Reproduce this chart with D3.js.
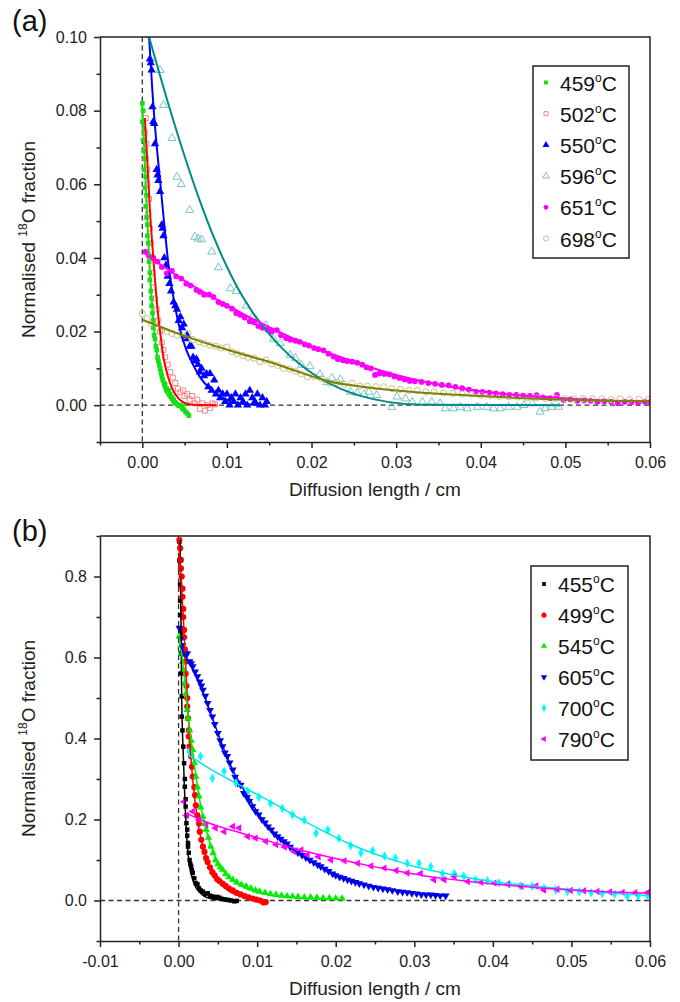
<!DOCTYPE html>
<html>
  <head>
    <title>Normalised 18O fraction profiles</title>
    <script src="https://cdnjs.cloudflare.com/ajax/libs/d3/7.8.5/d3.min.js"></script>
    <style>
      body { margin: 0; background: #fff; }
      svg { font-family: "Liberation Sans", Arial, sans-serif; }
    </style>
  </head>
  <body>
    <svg id="svg" width="680" height="1002" xmlns="http://www.w3.org/2000/svg"></svg>
    <script>
      // ---------- panel (a): [diffusion length / cm, normalised 18O fraction]
      let a459 = [[0.0000,0.082],[0.0001,0.080],[0.0000,0.077],[0.0002,0.075],[0.0001,0.072],[0.0002,0.069],[0.0003,0.067],[0.0002,0.064],[0.0004,0.062],[0.0003,0.059],[0.0005,0.057],[0.0004,0.054],[0.0005,0.051],[0.0006,0.049],[0.0006,0.046],[0.0007,0.044],[0.0007,0.041],[0.0008,0.039],[0.0009,0.036],[0.0009,0.034],[0.0010,0.031],[0.0011,0.029],[0.0011,0.027],[0.0012,0.025],[0.0013,0.023],[0.0013,0.021],[0.0014,0.019],[0.0015,0.018],[0.0016,0.016],[0.0017,0.015],[0.0018,0.013],[0.0019,0.012],[0.0020,0.011],[0.0021,0.010],[0.0022,0.009],[0.0023,0.008],[0.0024,0.007],[0.0026,0.006],[0.0027,0.0055],[0.0029,0.0045],[0.0031,0.004],[0.0033,0.003],[0.0035,0.0022],[0.0037,0.0015],[0.0039,0.0008],[0.0041,0.0003],[0.0043,-0.0002],[0.0045,0.0],[0.0047,-0.0008],[0.0049,-0.0012],[0.0051,-0.0018],[0.0053,-0.0022],[0.0055,-0.0028]];
      let a459Fit = [[0.0000,0.082],[0.0005,0.055],[0.0010,0.032],[0.0015,0.018],[0.0020,0.010],[0.0025,0.005],[0.0032,0.002],[0.0040,0.0],[0.0055,0.0]];

      let a502 = [[0.0004,0.078],[0.0003,0.074],[0.0005,0.071],[0.0004,0.067],[0.0006,0.064],[0.0006,0.060],[0.0008,0.056],[0.0007,0.052],[0.0009,0.048],[0.0010,0.044],[0.0011,0.040],[0.0012,0.036],[0.0013,0.032],[0.0015,0.029],[0.0017,0.026],[0.0019,0.023],[0.0021,0.020],[0.0023,0.017],[0.0025,0.015],[0.0027,0.013],[0.0030,0.011],[0.0033,0.009],[0.0036,0.0075],[0.0039,0.006],[0.0042,0.0045],[0.0045,0.0035],[0.0048,0.004],[0.0050,0.0025],[0.0053,0.003],[0.0056,0.0015],[0.0059,0.0025],[0.0062,0.0005],[0.0065,0.0015],[0.0068,-0.001],[0.0071,0.0005],[0.0074,-0.0015],[0.0077,0.0],[0.0080,-0.0008],[0.0083,0.0005],[0.0086,0.0002]];
      let a502Fit = [[0.0003,0.078],[0.0006,0.066],[0.0009,0.053],[0.0012,0.043],[0.0015,0.034],[0.0018,0.026],[0.0021,0.020],[0.0025,0.013],[0.0030,0.008],[0.0036,0.0042],[0.0043,0.0018],[0.0050,0.0006],[0.0060,0.0001],[0.0088,0.0]];

      let a550 = [[0.0009,0.094],[0.0010,0.093],[0.0011,0.091],[0.0012,0.081],[0.0013,0.077],[0.0014,0.0765],[0.0015,0.071],[0.0017,0.064],[0.0018,0.0625],[0.0019,0.061],[0.0021,0.058],[0.0023,0.049],[0.0024,0.048],[0.0025,0.046],[0.0026,0.040],[0.0028,0.038],[0.0030,0.035],[0.0032,0.033],[0.0034,0.031],[0.0037,0.028],[0.0039,0.027],[0.0041,0.026],[0.0043,0.023],[0.0045,0.024],[0.0047,0.021],[0.0049,0.022],[0.0051,0.018],[0.0053,0.019],[0.0056,0.016],[0.0058,0.016],[0.0060,0.013],[0.0062,0.012],[0.0064,0.0125],[0.0066,0.011],[0.0068,0.009],[0.0070,0.010],[0.0073,0.008],[0.0076,0.0085],[0.0078,0.005],[0.0080,0.0086],[0.0082,0.004],[0.0085,0.0068],[0.0087,0.003],[0.0090,0.004],[0.0092,0.002],[0.0095,0.003],[0.0098,0.001],[0.0100,0.003],[0.0103,0.000],[0.0105,0.002],[0.0108,0.001],[0.0110,0.003],[0.0113,0.000],[0.0116,0.002],[0.0119,0.001],[0.0122,0.003],[0.0124,0.000],[0.0127,0.004],[0.0130,0.002],[0.0133,0.001],[0.0136,0.003],[0.0139,0.000],[0.0142,0.002],[0.0145,0.000],[0.0147,0.001]];
      let a550Fit = [[0.0008,0.100],[0.0012,0.085],[0.0016,0.073],[0.0021,0.061],[0.0026,0.049],[0.0031,0.038],[0.0037,0.029],[0.0044,0.021],[0.0052,0.015],[0.0060,0.011],[0.0068,0.0077],[0.0080,0.0045],[0.0092,0.0023],[0.0105,0.001],[0.0120,0.0003],[0.0147,0.0]];

      let a596 = [[0.0021,0.091],[0.0025,0.0815],[0.0035,0.0725],[0.0041,0.062],[0.0046,0.060],[0.0056,0.053],[0.0062,0.0457],[0.0066,0.0452],[0.0070,0.045],[0.0082,0.0417],[0.0090,0.0374],[0.0104,0.0317],[0.0111,0.031],[0.0123,0.027],[0.0130,0.024],[0.0146,0.0217],[0.0155,0.018],[0.0163,0.0168],[0.0175,0.0136],[0.0181,0.0128],[0.0188,0.0109],[0.0198,0.0106],[0.0210,0.0084],[0.0218,0.0062],[0.0224,0.0074],[0.0234,0.0070],[0.0246,0.0036],[0.0254,0.0033],[0.0262,0.0030],[0.0268,0.0036],[0.0277,0.0027],[0.0295,-0.0005],[0.0301,0.0023],[0.0311,0.0018],[0.0319,0.0009],[0.0331,0.0009],[0.0342,0.0009],[0.0352,0.0005],[0.0358,-0.0009],[0.0368,-0.0009],[0.0376,-0.0005],[0.0384,-0.0009],[0.0396,-0.0005],[0.0407,-0.0005],[0.0415,-0.0009],[0.0423,-0.0009],[0.0433,-0.0005],[0.0443,-0.0005],[0.0451,0.0],[0.0461,0.0005],[0.0470,-0.0018],[0.0476,-0.0009],[0.0484,-0.0005],[0.0492,-0.0005]];
      let a596Fit = [[0.0008,0.100],[0.0030,0.0824],[0.0050,0.0676],[0.0068,0.0555],[0.0084,0.0459],[0.0100,0.0376],[0.0118,0.0297],[0.0131,0.0250],[0.0150,0.0193],[0.0165,0.0155],[0.0183,0.0117],[0.0205,0.0080],[0.0234,0.0045],[0.0260,0.0024],[0.0290,0.0009],[0.0330,0.0001],[0.0494,0.0]];

      let a651 = [[0.0004,0.0417],[0.0008,0.0405],[0.0013,0.040],[0.0018,0.039],[0.0023,0.0375],[0.0029,0.0358],[0.0035,0.0365],[0.0040,0.035],[0.0046,0.0344],[0.0052,0.033],[0.0057,0.0325],[0.0064,0.0313],[0.0068,0.0308],[0.0073,0.030],[0.0079,0.030],[0.0084,0.0294],[0.0090,0.028],[0.0095,0.0275],[0.0100,0.027],[0.0106,0.0262],[0.0111,0.025],[0.0116,0.0245],[0.0121,0.0238],[0.0127,0.0228],[0.0132,0.0225],[0.0137,0.0215],[0.0142,0.021],[0.0148,0.0205],[0.0153,0.020],[0.0159,0.0204],[0.0164,0.019],[0.0170,0.0182],[0.0175,0.0178],[0.0181,0.0175],[0.0186,0.0172],[0.0192,0.0165],[0.0197,0.0162],[0.0203,0.0155],[0.0208,0.0152],[0.0214,0.0149],[0.0220,0.014],[0.0226,0.0132],[0.0231,0.0125],[0.0237,0.0122],[0.0242,0.012],[0.0248,0.0118],[0.0254,0.0115],[0.0260,0.011],[0.0265,0.0103],[0.0270,0.010],[0.0275,0.0082],[0.0280,0.0086],[0.0286,0.0085],[0.0292,0.0084],[0.0298,0.0078],[0.0304,0.0074],[0.0310,0.007],[0.0316,0.0066],[0.0322,0.0065],[0.0330,0.0063],[0.0338,0.006],[0.0346,0.0058],[0.0354,0.0055],[0.0362,0.0054],[0.0370,0.005],[0.0378,0.0046],[0.0386,0.0042],[0.0394,0.0037],[0.0402,0.0036],[0.0410,0.0034],[0.0418,0.0032],[0.0426,0.003],[0.0434,0.0028],[0.0442,0.0028],[0.0450,0.0026],[0.0458,0.0025],[0.0466,0.0027],[0.0474,0.0021],[0.0482,0.0019],[0.0490,0.0028],[0.0498,0.0014],[0.0506,0.0016],[0.0514,0.0012],[0.0522,0.0013],[0.0530,0.0012],[0.0538,0.0009],[0.0546,0.0011],[0.0554,0.0009],[0.0562,0.0005],[0.0570,0.0009],[0.0578,0.0008],[0.0586,0.0007],[0.0594,0.0009],[0.0600,0.0008]];
      let a651Fit = [[0.0003,0.0412],[0.005,0.0338],[0.010,0.0272],[0.015,0.0212],[0.020,0.0160],[0.025,0.0118],[0.030,0.0082],[0.035,0.0056],[0.040,0.0038],[0.045,0.0026],[0.050,0.0018],[0.055,0.0012],[0.060,0.0009]];

      let a698 = [[0.0000,0.0249],[0.0006,0.0235],[0.0011,0.022],[0.0017,0.021],[0.0023,0.0205],[0.0029,0.0200],[0.0035,0.0195],[0.0041,0.019],[0.0048,0.0188],[0.0054,0.0195],[0.0060,0.0178],[0.0067,0.0172],[0.0073,0.0168],[0.0080,0.0163],[0.0087,0.016],[0.0093,0.0155],[0.0100,0.0158],[0.0106,0.0145],[0.0112,0.014],[0.0119,0.0135],[0.0125,0.013],[0.0132,0.0128],[0.0139,0.0118],[0.0146,0.0122],[0.0153,0.0112],[0.0160,0.0108],[0.0167,0.010],[0.0174,0.0098],[0.0181,0.0092],[0.0188,0.0085],[0.0195,0.0077],[0.0203,0.0078],[0.0212,0.0072],[0.0221,0.0060],[0.0230,0.0062],[0.0239,0.0057],[0.0248,0.0060],[0.0257,0.0052],[0.0266,0.0052],[0.0276,0.0050],[0.0285,0.0050],[0.0295,0.0045],[0.0305,0.0043],[0.0315,0.0040],[0.0325,0.0040],[0.0335,0.0036],[0.0345,0.0036],[0.0356,0.0033],[0.0367,0.0032],[0.0378,0.0030],[0.0389,0.0030],[0.0400,0.0027],[0.0411,0.0027],[0.0422,0.0024],[0.0433,0.0023],[0.0444,0.0022],[0.0455,0.0020],[0.0466,0.0020],[0.0477,0.0018],[0.0488,0.0019],[0.0499,0.0018],[0.0510,0.0017],[0.0521,0.0018],[0.0532,0.0017],[0.0543,0.0017],[0.0554,0.0015],[0.0565,0.0017],[0.0576,0.0015],[0.0587,0.0016],[0.0598,0.0015]];
      let a698Fit = [[0.0,0.0232],[0.003,0.0205],[0.006,0.0180],[0.009,0.0158],[0.012,0.0137],[0.015,0.0118],[0.018,0.0094],[0.022,0.0065],[0.026,0.0050],[0.030,0.0040],[0.035,0.0031],[0.040,0.0025],[0.045,0.0019],[0.050,0.0015],[0.055,0.0012],[0.060,0.0011]];

      // ---------- panel (b)
      let b455 = [[0.0001,0.886],[0.0001,0.84],[0.0002,0.78],[0.0002,0.74],[0.0002,0.705],[0.0003,0.66],[0.0003,0.61],[0.0003,0.561],[0.0004,0.504],[0.0004,0.454],[0.0005,0.42],[0.0006,0.38],[0.0007,0.339],[0.0008,0.30],[0.0008,0.281],[0.0009,0.25],[0.0009,0.232],[0.0010,0.21],[0.0010,0.191],[0.0011,0.175],[0.0011,0.16],[0.0012,0.142],[0.0012,0.133],[0.0013,0.118],[0.0014,0.10],[0.0015,0.09],[0.0016,0.084],[0.0017,0.075],[0.0018,0.068],[0.0020,0.055],[0.0022,0.043],[0.0024,0.040],[0.0026,0.030],[0.0028,0.025],[0.0031,0.022],[0.0034,0.016],[0.0037,0.018],[0.0040,0.012],[0.0043,0.010],[0.0046,0.008],[0.0049,0.009],[0.0052,0.007],[0.0055,0.004],[0.0058,0.003],[0.0061,0.002],[0.0064,0.001],[0.0067,0.0],[0.0071,-0.002],[0.0074,-0.001]];
      let b455Fit = [[0.0002,0.89],[0.0003,0.70],[0.0004,0.50],[0.0006,0.36],[0.0008,0.25],[0.0010,0.17],[0.0013,0.10],[0.0016,0.066],[0.0020,0.040],[0.0026,0.022],[0.0033,0.010],[0.0042,0.004],[0.0055,0.001],[0.0070,0.0]];

      let b499 = [[0.0001,0.89],[0.0002,0.87],[0.0003,0.841],[0.0003,0.82],[0.0004,0.80],[0.0005,0.77],[0.0005,0.75],[0.0006,0.72],[0.0006,0.70],[0.0007,0.668],[0.0007,0.65],[0.0008,0.62],[0.0009,0.59],[0.0009,0.56],[0.0010,0.53],[0.0011,0.50],[0.0011,0.479],[0.0012,0.45],[0.0013,0.42],[0.0013,0.405],[0.0014,0.38],[0.0016,0.356],[0.0017,0.33],[0.0018,0.306],[0.0020,0.28],[0.0021,0.26],[0.0022,0.235],[0.0024,0.21],[0.0026,0.19],[0.0027,0.17],[0.0029,0.15],[0.0031,0.133],[0.0033,0.12],[0.0035,0.105],[0.0037,0.095],[0.0040,0.082],[0.0043,0.07],[0.0046,0.062],[0.0049,0.053],[0.0052,0.048],[0.0056,0.042],[0.0060,0.036],[0.0064,0.030],[0.0069,0.025],[0.0074,0.019],[0.0079,0.015],[0.0084,0.011],[0.0089,0.008],[0.0094,0.005],[0.0099,0.002],[0.0104,0.0],[0.0108,-0.005],[0.0111,-0.004]];
      let b499Fit = [[0.0000,0.89],[0.0003,0.80],[0.0006,0.70],[0.0009,0.58],[0.0012,0.47],[0.0015,0.37],[0.0019,0.28],[0.0024,0.20],[0.0030,0.14],[0.0037,0.095],[0.0045,0.062],[0.0055,0.038],[0.0065,0.022],[0.0080,0.010],[0.0095,0.004],[0.0110,0.001]];

      let b545 = [[0.0001,0.652],[0.0003,0.63],[0.0004,0.61],[0.0005,0.59],[0.0006,0.57],[0.0008,0.537],[0.0009,0.51],[0.0011,0.471],[0.0012,0.45],[0.0014,0.421],[0.0016,0.395],[0.0018,0.372],[0.0020,0.34],[0.0022,0.306],[0.0024,0.28],[0.0026,0.257],[0.0028,0.23],[0.0031,0.207],[0.0033,0.19],[0.0035,0.175],[0.0038,0.155],[0.0041,0.133],[0.0044,0.117],[0.0047,0.100],[0.0050,0.09],[0.0053,0.082],[0.0056,0.076],[0.0060,0.066],[0.0064,0.058],[0.0069,0.051],[0.0074,0.045],[0.0080,0.039],[0.0086,0.035],[0.0092,0.030],[0.0098,0.025],[0.0103,0.022],[0.0110,0.019],[0.0117,0.016],[0.0124,0.014],[0.0131,0.012],[0.0138,0.011],[0.0145,0.010],[0.0152,0.009],[0.0160,0.008],[0.0168,0.008],[0.0176,0.007],[0.0184,0.006],[0.0192,0.006],[0.0200,0.005],[0.0208,0.005]];
      let b545Fit = [[0.0000,0.66],[0.0004,0.61],[0.0008,0.54],[0.0012,0.46],[0.0016,0.395],[0.0020,0.335],[0.0025,0.27],[0.0030,0.215],[0.0036,0.168],[0.0043,0.125],[0.0050,0.094],[0.0060,0.066],[0.0070,0.048],[0.0085,0.031],[0.0100,0.021],[0.0120,0.013],[0.0150,0.007],[0.0180,0.004],[0.0210,0.003]];

      let b605 = [[0.0001,0.673],[0.0003,0.646],[0.0005,0.63],[0.0007,0.611],[0.0009,0.605],[0.0011,0.61],[0.0014,0.59],[0.0016,0.585],[0.0018,0.578],[0.0021,0.565],[0.0024,0.553],[0.0027,0.54],[0.0029,0.53],[0.0031,0.52],[0.0034,0.505],[0.0037,0.487],[0.0040,0.47],[0.0043,0.454],[0.0046,0.435],[0.0050,0.413],[0.0053,0.395],[0.0056,0.38],[0.0059,0.365],[0.0062,0.356],[0.0065,0.34],[0.0069,0.323],[0.0072,0.305],[0.0075,0.29],[0.0079,0.285],[0.0083,0.265],[0.0087,0.255],[0.0090,0.245],[0.0094,0.232],[0.0098,0.22],[0.0102,0.212],[0.0106,0.200],[0.0110,0.192],[0.0114,0.182],[0.0118,0.175],[0.0122,0.165],[0.0126,0.158],[0.0130,0.152],[0.0134,0.146],[0.0138,0.140],[0.0142,0.132],[0.0147,0.125],[0.0152,0.118],[0.0157,0.112],[0.0162,0.106],[0.0167,0.100],[0.0172,0.094],[0.0177,0.088],[0.0181,0.084],[0.0186,0.078],[0.0191,0.072],[0.0196,0.066],[0.0200,0.062],[0.0205,0.058],[0.0210,0.055],[0.0215,0.051],[0.0220,0.048],[0.0225,0.045],[0.0230,0.042],[0.0236,0.039],[0.0242,0.036],[0.0248,0.033],[0.0254,0.031],[0.0260,0.029],[0.0266,0.027],[0.0272,0.025],[0.0279,0.022],[0.0285,0.021],[0.0291,0.020],[0.0297,0.018],[0.0303,0.017],[0.0309,0.015],[0.0315,0.014],[0.0321,0.014],[0.0327,0.013],[0.0333,0.012],[0.0340,0.0116]];
      let b605Fit = [[0.0002,0.63],[0.0010,0.60],[0.0020,0.565],[0.0030,0.52],[0.0040,0.468],[0.0050,0.413],[0.0060,0.362],[0.0070,0.318],[0.0080,0.283],[0.0092,0.245],[0.0103,0.21],[0.0115,0.18],[0.0128,0.155],[0.0147,0.125],[0.0165,0.10],[0.0181,0.083],[0.0200,0.063],[0.0220,0.048],[0.0250,0.034],[0.0280,0.023],[0.0310,0.016],[0.0340,0.011]];

      let b700 = [[0.00135,0.368],[0.0016,0.36],[0.0028,0.356],[0.0043,0.302],[0.0058,0.319],[0.0073,0.290],[0.0088,0.269],[0.0102,0.255],[0.0117,0.240],[0.0132,0.228],[0.0145,0.212],[0.0160,0.199],[0.0175,0.166],[0.0190,0.175],[0.0204,0.154],[0.0219,0.135],[0.0232,0.117],[0.0247,0.123],[0.0262,0.110],[0.0276,0.105],[0.0291,0.092],[0.0306,0.092],[0.0321,0.084],[0.0336,0.066],[0.0351,0.066],[0.0363,0.060],[0.0378,0.051],[0.0393,0.049],[0.0408,0.043],[0.0421,0.040],[0.0435,0.036],[0.0450,0.035],[0.0465,0.030],[0.0480,0.026],[0.0495,0.022],[0.0510,0.022],[0.0525,0.019],[0.0539,0.017],[0.0555,0.016],[0.0571,0.010],[0.0585,0.011],[0.0597,0.012]];
      let b700Fit = [[0.0012,0.36],[0.004,0.325],[0.007,0.293],[0.010,0.262],[0.013,0.230],[0.016,0.196],[0.019,0.166],[0.0215,0.142],[0.025,0.115],[0.028,0.096],[0.030,0.084],[0.033,0.071],[0.036,0.059],[0.0385,0.051],[0.041,0.044],[0.044,0.038],[0.047,0.032],[0.050,0.027],[0.053,0.022],[0.056,0.017],[0.060,0.012]];

      let b790 = [[0.0007,0.244],[0.0010,0.21],[0.0018,0.22],[0.0026,0.199],[0.0035,0.187],[0.0047,0.179],[0.0058,0.17],[0.0069,0.183],[0.0077,0.179],[0.0088,0.158],[0.0098,0.154],[0.0111,0.146],[0.0124,0.138],[0.0135,0.132],[0.0147,0.121],[0.0156,0.125],[0.0164,0.113],[0.0178,0.108],[0.0194,0.100],[0.0211,0.098],[0.0228,0.092],[0.0245,0.085],[0.0262,0.080],[0.0277,0.074],[0.0291,0.068],[0.0308,0.067],[0.0325,0.051],[0.0338,0.051],[0.0351,0.059],[0.0368,0.047],[0.0385,0.045],[0.0402,0.043],[0.0419,0.040],[0.0436,0.035],[0.0455,0.036],[0.0465,0.026],[0.0482,0.028],[0.0499,0.025],[0.0516,0.024],[0.0533,0.022],[0.0549,0.021],[0.0565,0.020],[0.0581,0.019],[0.0597,0.020]];
      let b790Fit = [[0.0010,0.215],[0.004,0.19],[0.007,0.172],[0.010,0.155],[0.013,0.138],[0.016,0.122],[0.019,0.108],[0.022,0.095],[0.025,0.083],[0.028,0.072],[0.031,0.062],[0.034,0.054],[0.037,0.047],[0.040,0.041],[0.043,0.036],[0.046,0.031],[0.049,0.027],[0.052,0.024],[0.055,0.021],[0.058,0.019],[0.060,0.018]];

      // ---------- axis ticks
      let aXTicks = [0, 0.01, 0.02, 0.03, 0.04, 0.05, 0.06];
      let aXMinor = [-0.005, 0.005, 0.015, 0.025, 0.035, 0.045, 0.055];
      let aYTicks = [0, 0.02, 0.04, 0.06, 0.08, 0.10];
      let aYMinor = [-0.01, 0.01, 0.03, 0.05, 0.07, 0.09];
      let bXTicks = [-0.01, 0, 0.01, 0.02, 0.03, 0.04, 0.05, 0.06];
      let bXMinor = [-0.005, 0.005, 0.015, 0.025, 0.035, 0.045, 0.055];
      let bYTicks = [0, 0.2, 0.4, 0.6, 0.8];
      let bYMinor = [-0.1, 0.1, 0.3, 0.5, 0.7, 0.9];

      let svg = d3.select("svg");

      // Draws one panel: frame, axes, reference lines, points, fits, legend
      function drawPanel(p) {
        let g = svg.append("g");
        let x = d3.scaleLinear().domain(p.xDomain).range([p.left, p.right]);
        let y = d3.scaleLinear().domain(p.yDomain).range([p.bottom, p.top]);

        g.append("clipPath").attr("id", p.id + "clip")
          .append("rect")
          .attr("x", p.left).attr("y", p.top)
          .attr("width", p.right - p.left).attr("height", p.bottom - p.top);

        // dashed zero lines
        g.append("line")
          .attr("x1", p.left).attr("x2", p.right)
          .attr("y1", y(0)).attr("y2", y(0))
          .attr("stroke", "#333").attr("stroke-width", 1.3).attr("stroke-dasharray", "5,3.5");
        g.append("line")
          .attr("x1", x(0)).attr("x2", x(0))
          .attr("y1", p.top).attr("y2", p.bottom)
          .attr("stroke", "#333").attr("stroke-width", 1.3).attr("stroke-dasharray", "5,3.5");

        let data = g.append("g").attr("clip-path", "url(#" + p.id + "clip)");

        // points
        p.series.forEach((s) => {
          let sym = d3.symbol(s.symbol, s.size)();
          data.append("g")
            .selectAll("path")
            .data(s.pts)
            .join("path")
            .attr("d", sym)
            .attr("transform", (d) => "translate(" + x(d[0]) + "," + y(d[1]) + ") rotate(" + (s.rotate || 0) + ")")
            .attr("fill", s.open ? "none" : s.color)
            .attr("stroke", s.open ? s.color : "none")
            .attr("stroke-width", 1);
        });

        // fitted curves
        let line = d3.line().x((d) => x(d[0])).y((d) => y(d[1])).curve(d3.curveMonotoneX);
        p.series.forEach((s) => {
          data.append("path")
            .attr("d", line(s.fit))
            .attr("fill", "none")
            .attr("stroke", s.lineColor)
            .attr("stroke-width", p.lineWidth);
        });

        // frame top/right
        g.append("path")
          .attr("d", "M" + p.left + "," + p.top + "H" + p.right + "V" + p.bottom)
          .attr("fill", "none").attr("stroke", "#222").attr("stroke-width", 1.5);

        // axes
        let xAxis = g.append("g").attr("transform", "translate(0," + p.bottom + ")")
          .call(d3.axisBottom(x).tickValues(p.xTicks).tickFormat((d) => d.toFixed(2)).tickSize(6).tickSizeOuter(0).tickPadding(9));
        g.append("g").attr("transform", "translate(0," + p.bottom + ")")
          .call(d3.axisBottom(x).tickValues(p.xMinor).tickFormat("").tickSize(3.5).tickSizeOuter(0))
          .call((a) => a.select(".domain").remove());
        let yAxis = g.append("g").attr("transform", "translate(" + p.left + ",0)")
          .call(d3.axisLeft(y).tickValues(p.yTicks).tickFormat((d) => d.toFixed(p.yDigits)).tickSize(6).tickSizeOuter(0).tickPadding(7));
        g.append("g").attr("transform", "translate(" + p.left + ",0)")
          .call(d3.axisLeft(y).tickValues(p.yMinor).tickFormat("").tickSize(3.5).tickSizeOuter(0))
          .call((a) => a.select(".domain").remove());

        g.selectAll(".domain, .tick line").attr("stroke", "#222").attr("stroke-width", 1.5);
        [xAxis, yAxis].forEach((a) =>
          a.selectAll("text").attr("font-size", 16).attr("fill", "#222").attr("font-family", "Liberation Sans, Arial, sans-serif"));

        // titles
        g.append("text")
          .attr("x", (p.left + p.right) / 2).attr("y", p.xTitleY)
          .attr("text-anchor", "middle").attr("font-size", 19).attr("fill", "#222")
          .text("Diffusion length / cm");

        let yt = g.append("text")
          .attr("transform", "translate(35," + (p.top + p.bottom) / 2 + ") rotate(-90)")
          .attr("text-anchor", "middle").attr("font-size", 19).attr("fill", "#222");
        yt.append("tspan").text("Normalised ");
        yt.append("tspan").attr("font-size", 12).attr("dy", -8).text("18");
        yt.append("tspan").attr("dy", 8).text("O fraction");

        g.append("text")
          .attr("x", 12).attr("y", p.tagY)
          .attr("font-size", 29).attr("fill", "#111")
          .text(p.tag);

        // legend
        let L = p.legend;
        g.append("rect")
          .attr("x", L.x).attr("y", L.y).attr("width", L.w).attr("height", L.h)
          .attr("fill", "#fff").attr("stroke", "#222").attr("stroke-width", 1.5);
        p.series.forEach((s, i) => {
          let cy = L.row0 + i * L.step;
          g.append("path")
            .attr("d", d3.symbol(s.symbol, s.size * 0.7)())
            .attr("transform", "translate(" + L.markX + "," + cy + ") rotate(" + (s.rotate || 0) + ")")
            .attr("fill", s.open ? "none" : s.color)
            .attr("stroke", s.open ? s.color : "none");
          let t = g.append("text")
            .attr("x", L.textX).attr("y", cy + 8)
            .attr("font-size", 21).attr("fill", "#111");
          t.append("tspan").text(s.label);
          t.append("tspan").attr("font-size", 12).attr("dy", -9).text("o");
          t.append("tspan").attr("dy", 9).text("C");
        });
      }

      drawPanel({
        id: "a", tag: "(a)", tagY: 31,
        left: 100, right: 650, top: 37, bottom: 442,
        xDomain: [-0.005, 0.06], yDomain: [-0.01, 0.10],
        xTicks: aXTicks, xMinor: aXMinor, yTicks: aYTicks, yMinor: aYMinor, yDigits: 2,
        xTitleY: 496, lineWidth: 2,
        legend: { x: 533, y: 66, w: 96, h: 192, row0: 82.5, step: 31.2, markX: 546, textX: 560 },
        series: [
          { label: "459", pts: a459, fit: a459Fit, symbol: d3.symbolSquare, size: 22, color: "#14e014", lineColor: "#14e014" },
          { label: "502", pts: a502, fit: a502Fit, symbol: d3.symbolSquare, size: 24, color: "#f08a8a", open: true, lineColor: "#ff0000" },
          { label: "550", pts: a550, fit: a550Fit, symbol: d3.symbolTriangle, size: 30, color: "#0000ff", lineColor: "#0000ff" },
          { label: "596", pts: a596, fit: a596Fit, symbol: d3.symbolTriangle, size: 28, color: "#7cc4c4", open: true, lineColor: "#008b8b" },
          { label: "651", pts: a651, fit: a651Fit, symbol: d3.symbolCircle, size: 26, color: "#ff00ff", lineColor: "#ff00ff" },
          { label: "698", pts: a698, fit: a698Fit, symbol: d3.symbolCircle, size: 30, color: "#c4c48c", open: true, lineColor: "#808000" },
        ],
      });

      drawPanel({
        id: "b", tag: "(b)", tagY: 541,
        left: 100, right: 650, top: 536, bottom: 941,
        xDomain: [-0.01, 0.06], yDomain: [-0.1, 0.9],
        xTicks: bXTicks, xMinor: bXMinor, yTicks: bYTicks, yMinor: bYMinor, yDigits: 1,
        xTitleY: 995, lineWidth: 1.5,
        legend: { x: 531, y: 566, w: 97, h: 194, row0: 584, step: 31, markX: 544, textX: 558 },
        series: [
          { label: "455", pts: b455, fit: b455Fit, symbol: d3.symbolSquare, size: 20, color: "#000000", lineColor: "#000000" },
          { label: "499", pts: b499, fit: b499Fit, symbol: d3.symbolCircle, size: 30, color: "#ff0000", lineColor: "#ff0000" },
          { label: "545", pts: b545, fit: b545Fit, symbol: d3.symbolTriangle, size: 24, color: "#00ee00", lineColor: "#00ee00" },
          { label: "605", pts: b605, fit: b605Fit, symbol: d3.symbolTriangle, size: 26, rotate: 180, color: "#0000e6", lineColor: "#0000e6" },
          { label: "700", pts: b700, fit: b700Fit, symbol: d3.symbolDiamond, size: 26, color: "#00ffff", lineColor: "#00e8e8" },
          { label: "790", pts: b790, fit: b790Fit, symbol: d3.symbolTriangle, size: 24, rotate: -90, color: "#ff00ff", lineColor: "#ff00ff" },
        ],
      });
    </script>
  </body>
</html>
